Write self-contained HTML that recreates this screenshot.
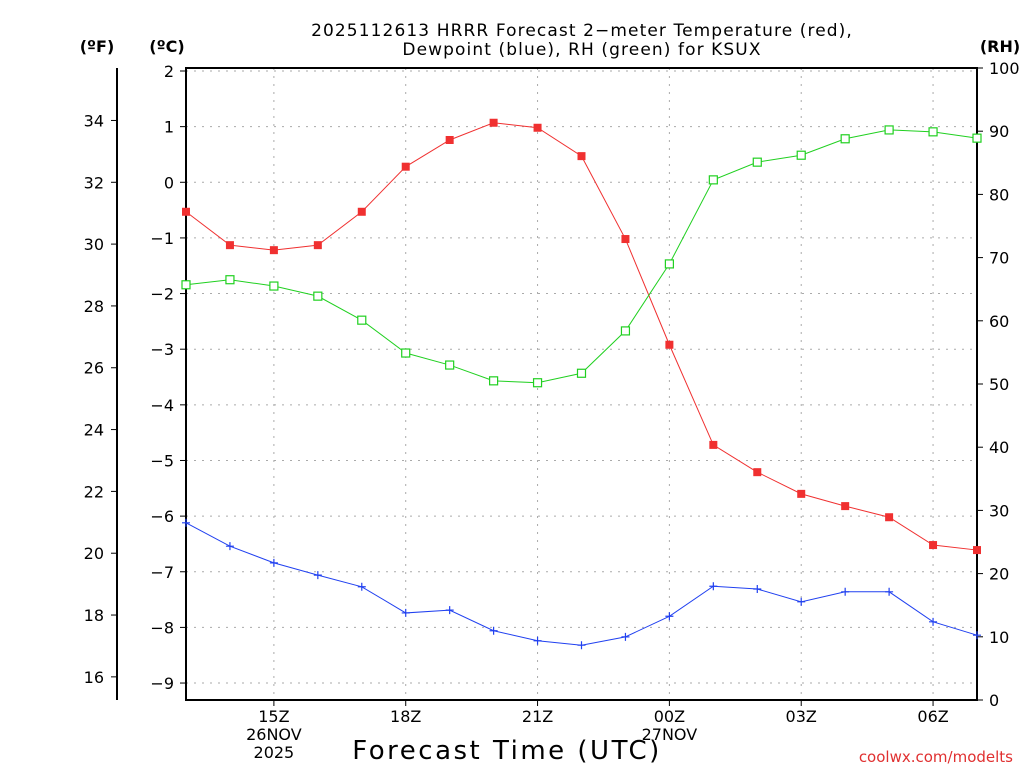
<!DOCTYPE html>
<html><head><meta charset="utf-8"><style>
body{margin:0;background:#fff;}
svg text{font-family:"DejaVu Sans","Liberation Sans",sans-serif;}
</style></head><body>
<svg id="c" width="1024" height="768" xmlns="http://www.w3.org/2000/svg">
<text x="582" y="36" font-size="17" letter-spacing="1.1" text-anchor="middle">2025112613 HRRR Forecast 2−meter Temperature (red),</text>
<text x="582" y="55" font-size="17" letter-spacing="1.1" text-anchor="middle">Dewpoint (blue), RH (green) for KSUX</text>
<text x="97" y="52" font-size="16" font-weight="bold" text-anchor="middle">(ºF)</text>
<text x="167" y="52" font-size="16" font-weight="bold" text-anchor="middle">(ºC)</text>
<text x="1000" y="52" font-size="16" font-weight="bold" text-anchor="middle">(RH)</text>
<text x="507" y="759" font-size="26" letter-spacing="2.5" text-anchor="middle">Forecast Time (UTC)</text>
<text x="1013" y="762" font-size="15" fill="#e03030" text-anchor="end">coolwx.com/modelts</text>
<g id="g"></g>
</svg>
<script>
const hours=[13,14,15,16,17,18,19,20,21,22,23,24,25,26,27,28,29,30,31];
const tempC=[-0.53,-1.13,-1.22,-1.13,-0.53,0.28,0.76,1.07,0.98,0.47,-1.02,-2.92,-4.72,-5.21,-5.60,-5.82,-6.02,-6.52,-6.61];
const dewC=[-6.12,-6.54,-6.84,-7.06,-7.27,-7.74,-7.69,-8.06,-8.24,-8.32,-8.17,-7.80,-7.26,-7.31,-7.54,-7.36,-7.36,-7.90,-8.14];
const rh=[65.7,66.5,65.5,63.9,60.1,54.9,53.0,50.5,50.2,51.7,58.4,69.0,82.3,85.1,86.2,88.8,90.2,89.9,88.9];
const cTicks=[2,1,0,-1,-2,-3,-4,-5,-6,-7,-8,-9];
const fTicks=[34,32,30,28,26,24,22,20,18,16];
const rhTicks=[0,10,20,30,40,50,60,70,80,90,100];
const xTicks=[{h:15,l:["15Z","26NOV","2025"]},{h:18,l:["18Z"]},{h:21,l:["21Z"]},{h:24,l:["00Z","27NOV"]},{h:27,l:["03Z"]},{h:30,l:["06Z"]}];
const L=186,R=977,T=68,B=700;
const xs=h=>L+(h-13)*(R-L)/18;
const yC=c=>71+(2-c)*55.64;
const yF=f=>yC((f-32)/1.8);
const yR=r=>B-r*(B-T)/100;
const g=document.getElementById('g');const NS='http://www.w3.org/2000/svg';
function el(t,a){const e=document.createElementNS(NS,t);for(const k in a)e.setAttribute(k,a[k]);g.appendChild(e);return e;}
function tx(x,y,s,anc,name){const e=el('text',{x:x,y:y,'font-size':16,'text-anchor':anc});e.textContent=s;return e;}
cTicks.forEach(c=>{const y=yC(c);
 const l=el('line',{x1:L,x2:R,y1:y,y2:y,stroke:'#aaa','stroke-dasharray':'2,6'});
 const t=el('line',{x1:L-6,x2:L,y1:y,y2:y,stroke:'#000'});
 tx(L-12,y+6,c<0?'−'+(-c):String(c),'end','c-tick-label');});
xTicks.forEach(o=>{const x=xs(o.h);
 const l=el('line',{x1:x,x2:x,y1:T,y2:B,stroke:'#aaa','stroke-dasharray':'2,6'});
 const t=el('line',{x1:x,x2:x,y1:B,y2:B+6,stroke:'#000'});
 o.l.forEach((s,i)=>tx(x,B+22+i*18,s,'middle','x-tick-label'));});
fTicks.forEach(f=>{const y=yF(f);
 const t=el('line',{x1:111,x2:117,y1:y,y2:y,stroke:'#000'});
 tx(104,y+6,String(f),'end','f-tick-label');});
rhTicks.forEach(r=>{const y=yR(r);
 const t=el('line',{x1:R,x2:R+6,y1:y,y2:y,stroke:'#000'});
 tx(R+12,y+6,String(r),'start','rh-tick-label');});
let a=el('line',{x1:117,x2:117,y1:T,y2:B,stroke:'#000','stroke-width':2});
a=el('rect',{x:L,y:T,width:R-L,height:B-T,fill:'none',stroke:'#000','stroke-width':2});
function series(vals,yf,col,name){const p=vals.map((v,i)=>xs(hours[i])+','+yf(v)).join(' ');
 const e=el('polyline',{points:p,fill:'none',stroke:col,'stroke-width':1});}
series(tempC,yC,'#f03030','temperature');series(dewC,yC,'#2040f0','dewpoint');series(rh,yR,'#20d020','rh');
tempC.forEach((v,i)=>{const e=el('rect',{x:xs(hours[i])-4,y:yC(v)-4,width:8,height:8,fill:'#f03030'});});
rh.forEach((v,i)=>{const e=el('rect',{x:xs(hours[i])-4,y:yR(v)-4,width:8,height:8,fill:'#fff',stroke:'#20d020','stroke-width':1.2});});
dewC.forEach((v,i)=>{const x=xs(hours[i]),y=yC(v);const e=el('path',{d:`M${x-4} ${y}H${x+4}M${x} ${y-4}V${y+4}`,stroke:'#2040f0','stroke-width':1.2});});
</script>
</body></html>
